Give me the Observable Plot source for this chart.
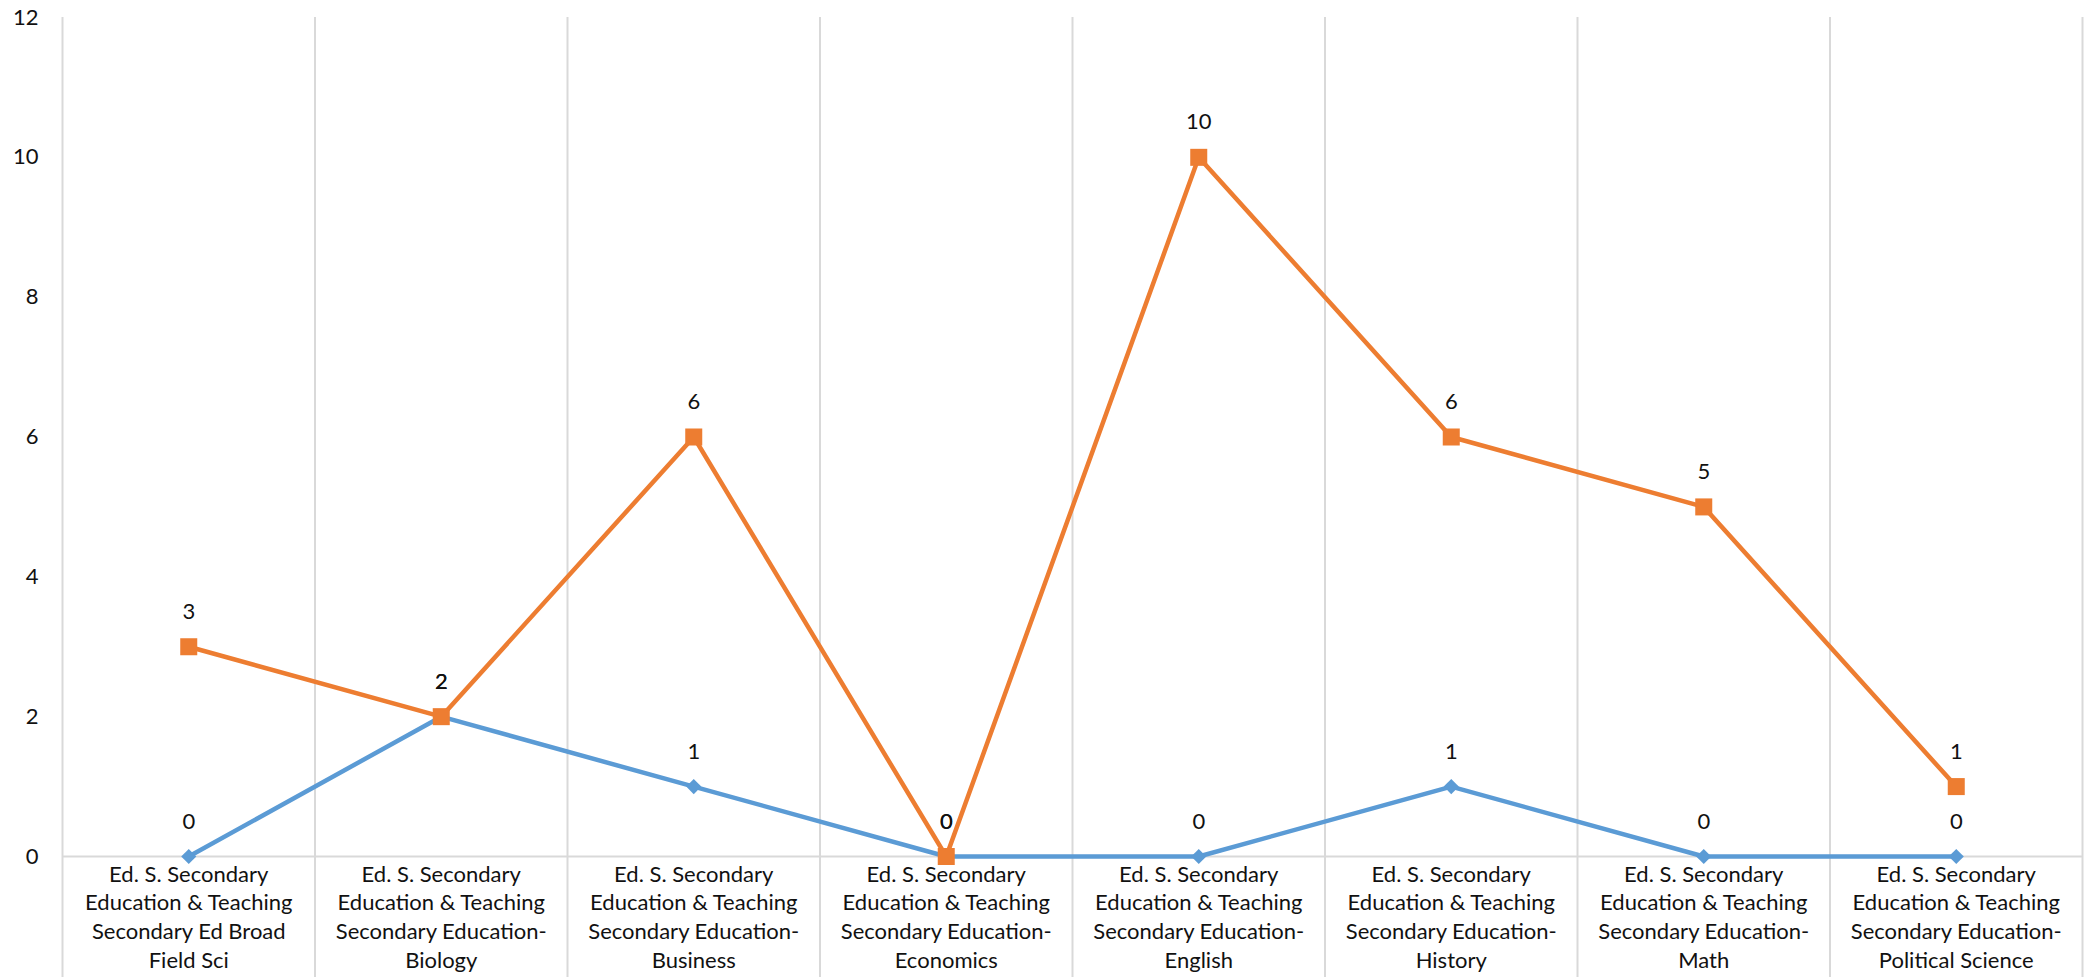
<!DOCTYPE html>
<html>
<head>
<meta charset="utf-8">
<script src="https://cdn.jsdelivr.net/npm/d3@7"></script>
<script src="https://cdn.jsdelivr.net/npm/@observablehq/plot@0.6"></script>
<style>
  html, body { margin: 0; padding: 0; background: #fff; }
  #chart svg { display: block; }
</style>
</head>
<body>
<div id="chart"></div>
<script>
const categories = [
  "Ed. S. Secondary\nEducation & Teaching\nSecondary Ed Broad\nField Sci",
  "Ed. S. Secondary\nEducation & Teaching\nSecondary Education-\nBiology",
  "Ed. S. Secondary\nEducation & Teaching\nSecondary Education-\nBusiness",
  "Ed. S. Secondary\nEducation & Teaching\nSecondary Education-\nEconomics",
  "Ed. S. Secondary\nEducation & Teaching\nSecondary Education-\nEnglish",
  "Ed. S. Secondary\nEducation & Teaching\nSecondary Education-\nHistory",
  "Ed. S. Secondary\nEducation & Teaching\nSecondary Education-\nMath",
  "Ed. S. Secondary\nEducation & Teaching\nSecondary Education-\nPolitical Science"
];
const seriesBlue = [0, 2, 1, 0, 0, 1, 0, 0];
const seriesOrange = [3, 2, 6, 0, 10, 6, 5, 1];
const yTicks = [0, 2, 4, 6, 8, 10, 12];

const blue = "#5b9bd5";
const orange = "#ed7d31";
const font = "Lato, 'Open Sans', sans-serif";

const blueData = seriesBlue.map((v, i) => ({i: i + 0.5, v, cat: categories[i]}));
const orangeData = seriesOrange.map((v, i) => ({i: i + 0.5, v, cat: categories[i]}));
const bounds = d3.range(categories.length + 1);

const chart = Plot.plot({
  width: 2088,
  height: 977,
  marginLeft: 62,
  marginRight: 6,
  marginTop: 17,
  marginBottom: 121,
  style: {fontFamily: font, fontSize: "22px", color: "#111", background: "#fff"},
  x: {type: "linear", domain: [0, categories.length], axis: null},
  y: {domain: [0, 12], axis: null},
  marks: [
    Plot.ruleX(bounds, {x: d => d, stroke: "#d9d9d9", strokeWidth: 2, insetBottom: -121}),
    Plot.ruleY([0], {stroke: "#d9d9d9", strokeWidth: 2}),
    Plot.axisY({ticks: yTicks, tickSize: 0, tickPadding: 24, fontSize: 22, fill: "#111", label: null}),
    Plot.text(blueData, {x: "i", y: 0, text: "cat", lineAnchor: "top", dy: 5, lineHeight: 1.3, fontSize: 22, fill: "#111"}),
    Plot.line(blueData, {x: "i", y: "v", stroke: blue, strokeWidth: 4.5}),
    Plot.dot(blueData, {x: "i", y: "v", symbol: "diamond2", r: 6.8, fill: blue, stroke: "none"}),
    Plot.line(orangeData, {x: "i", y: "v", stroke: orange, strokeWidth: 4.5}),
    Plot.dot(orangeData, {x: "i", y: "v", symbol: "square", r: 9.6, fill: orange, stroke: "none"}),
    Plot.text(blueData, {x: "i", y: "v", text: d => String(d.v), dy: -35, fontSize: 22, fill: "#111"}),
    Plot.text(orangeData, {x: "i", y: "v", text: d => String(d.v), dy: -35, fontSize: 22, fill: "#111"})
  ]
});
document.getElementById("chart").appendChild(chart);
</script>
</body>
</html>
